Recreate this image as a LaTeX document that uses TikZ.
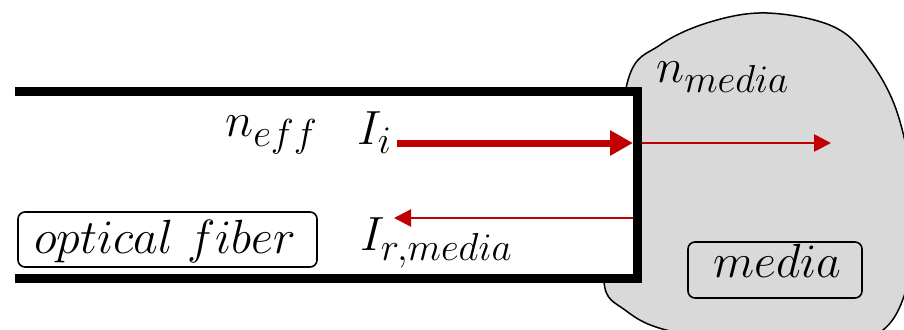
\RequirePackage{fix-cm}
\documentclass[tikz,border=0pt]{standalone}
\usetikzlibrary{arrows.meta}
\DeclareMathSizes{48}{48}{39}{30}
\definecolor{darkred}{HTML}{C00000}
\definecolor{blobgray}{HTML}{D9D9D9}
\tikzset{
  lbl/.style={inner sep=0pt, font=\fontsize{48}{56}\selectfont, anchor=base west},
  tagbox/.style={draw=black, line width=1.6pt, rounded corners=7pt, inner sep=0pt},
  beam/.style={draw=darkred, line width=2.6pt, -{Triangle[length=17pt,width=17pt]}},
}
\begin{document}
\begin{tikzpicture}[x=1pt,y=-1pt]
\useasboundingbox (0,0) rectangle (904,329);
\clip (0,0) rectangle (904,329);
% media blob
\draw[fill=blobgray, line width=1.5pt] plot[smooth cycle, tension=0.6] coordinates {
  (615,200) (628,80) (660,45) (710,22) (767,13) (832,26) (868,58)
  (898,115) (913,200) (906,290) (870,338) (780,348) (670,331) (625,310) (604,282)};
% fiber
\coordinate (ftl) at (15,91);
\coordinate (ftr) at (637.5,91);
\coordinate (fbr) at (637.5,278);
\coordinate (fbl) at (15,278);
\fill[white] (ftl) -- (ftr) -- (fbr) -- (fbl) -- cycle;
\draw[line width=9pt, line join=miter] (ftl) -- (ftr) -- (fbr) -- (fbl);
% arrows
\coordinate (a1s) at (397,143);
\coordinate (a1e) at (633,143);
\coordinate (a2s) at (642,143);
\coordinate (a2e) at (831,143);
\coordinate (a3s) at (633,218);
\coordinate (a3e) at (394,218);
\draw[draw=darkred, line width=7pt, -{Triangle[length=23pt,width=24pt]}] (a1s) -- (a1e);
\draw[beam] (a2s) -- (a2e);
\draw[beam, line width=2.4pt] (a3s) -- (a3e);
% labels
\node[lbl] (neff) at (225,136) {$n_{eff}$};
\node[lbl] (Ii) at (357,144) {$I_i$};
\node[lbl] (Ir) at (360,250) {$I_{r,media}$};
\node[lbl] (nmed) at (656,82) {$n_{media}$};
% boxes
\node[tagbox, minimum width=299pt, minimum height=55pt] (ofbox) at (167.5,239.5) {};
\node[lbl] (oftxt) at (34,253) {$optical\ fiber$};
\node[tagbox, fill=blobgray, minimum width=174pt, minimum height=56pt] (medbox) at (775,270) {};
\node[lbl] (medtxt) at (713,277) {$media$};
\end{tikzpicture}
\end{document}
